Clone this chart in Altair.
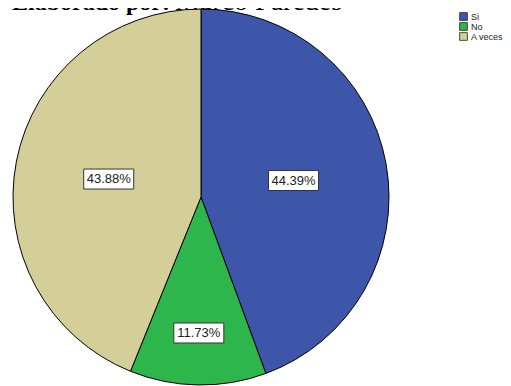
import altair as alt
import pandas as pd

categories = ["Si", "No", "A veces"]
values = [44.39, 11.73, 43.88]
order_idx = [0, 1, 2]
colors = ["#3D56A9", "#2DB64B", "#D4CF98"]
title_bold = ["Elaborado por:"]
title_regular = ["Marco Paredes"]

df = pd.DataFrame({"cat": categories, "value": values, "idx": order_idx})

CX, CY, R = 193, 189, 188

base = alt.Chart(df)

arcs = base.mark_arc(stroke="black", strokeWidth=1, outerRadius=R).encode(
    theta=alt.Theta("value:Q", stack=True),
    color=alt.Color(
        "cat:N",
        scale=alt.Scale(domain=categories, range=colors),
        sort=categories,
        legend=alt.Legend(
            title=None,
            orient="none",
            legendX=451,
            legendY=4,
            symbolType="square",
            symbolSize=60,
            symbolStrokeColor="#222",
            symbolStrokeWidth=0.8,
            labelFont="Liberation Sans",
            labelFontSize=9,
            labelColor="#222",
            rowPadding=-2,
            labelOffset=3,
        ),
    ),
    order=alt.Order("idx:Q"),
    x=alt.value(CX),
    y=alt.value(CY),
)

lab = (
    base.transform_window(cum="sum(value)", sort=[alt.SortField("idx")])
    .transform_joinaggregate(total="sum(value)")
    .transform_calculate(
        mid="(datum.cum - datum.value/2) / datum.total * 2 * PI",
        r="datum.cat == 'No' ? 136 : 94",
        lbl="format(datum.value, '.2f') + '%'",
    )
    .transform_calculate(
        lx=f"{CX} + datum.r * sin(datum.mid)",
        ly=f"{CY} - datum.r * cos(datum.mid)",
    )
    .transform_calculate(
        lx0="datum.lx - 25", lx1="datum.lx + 25",
        ly0="datum.ly - 10", ly1="datum.ly + 10",
    )
)

boxes = lab.mark_rect(fill="white", stroke="#333", strokeWidth=1).encode(
    x=alt.X("lx0:Q", scale=None, axis=None),
    x2="lx1:Q",
    y=alt.Y("ly0:Q", scale=None, axis=None),
    y2="ly1:Q",
)

texts = lab.mark_text(
    font="Liberation Sans", fontSize=13, color="#222", align="center", baseline="middle"
).encode(
    x=alt.X("lx:Q", scale=None, axis=None),
    y=alt.Y("ly:Q", scale=None, axis=None),
    text="lbl:N",
)

t1 = alt.Chart(pd.DataFrame({"t": title_bold})).mark_text(
    font="Liberation Serif", fontSize=24, fontWeight="bold", align="left",
    baseline="alphabetic", color="black"
).encode(text="t:N", x=alt.value(4), y=alt.value(2))

t2 = alt.Chart(pd.DataFrame({"t": title_regular})).mark_text(
    font="Liberation Serif", fontSize=28, align="left",
    baseline="alphabetic", color="black"
).encode(text="t:N", x=alt.value(167), y=alt.value(2))

chart = alt.layer(t1, t2, arcs, boxes, texts).properties(
    width=495, height=378, padding=0,
    autosize=alt.AutoSizeParams(type="none"),
).configure_view(stroke=None).configure_axis(disable=True)

chart.save("out.html", embed_options={"renderer": "svg", "actions": False})
